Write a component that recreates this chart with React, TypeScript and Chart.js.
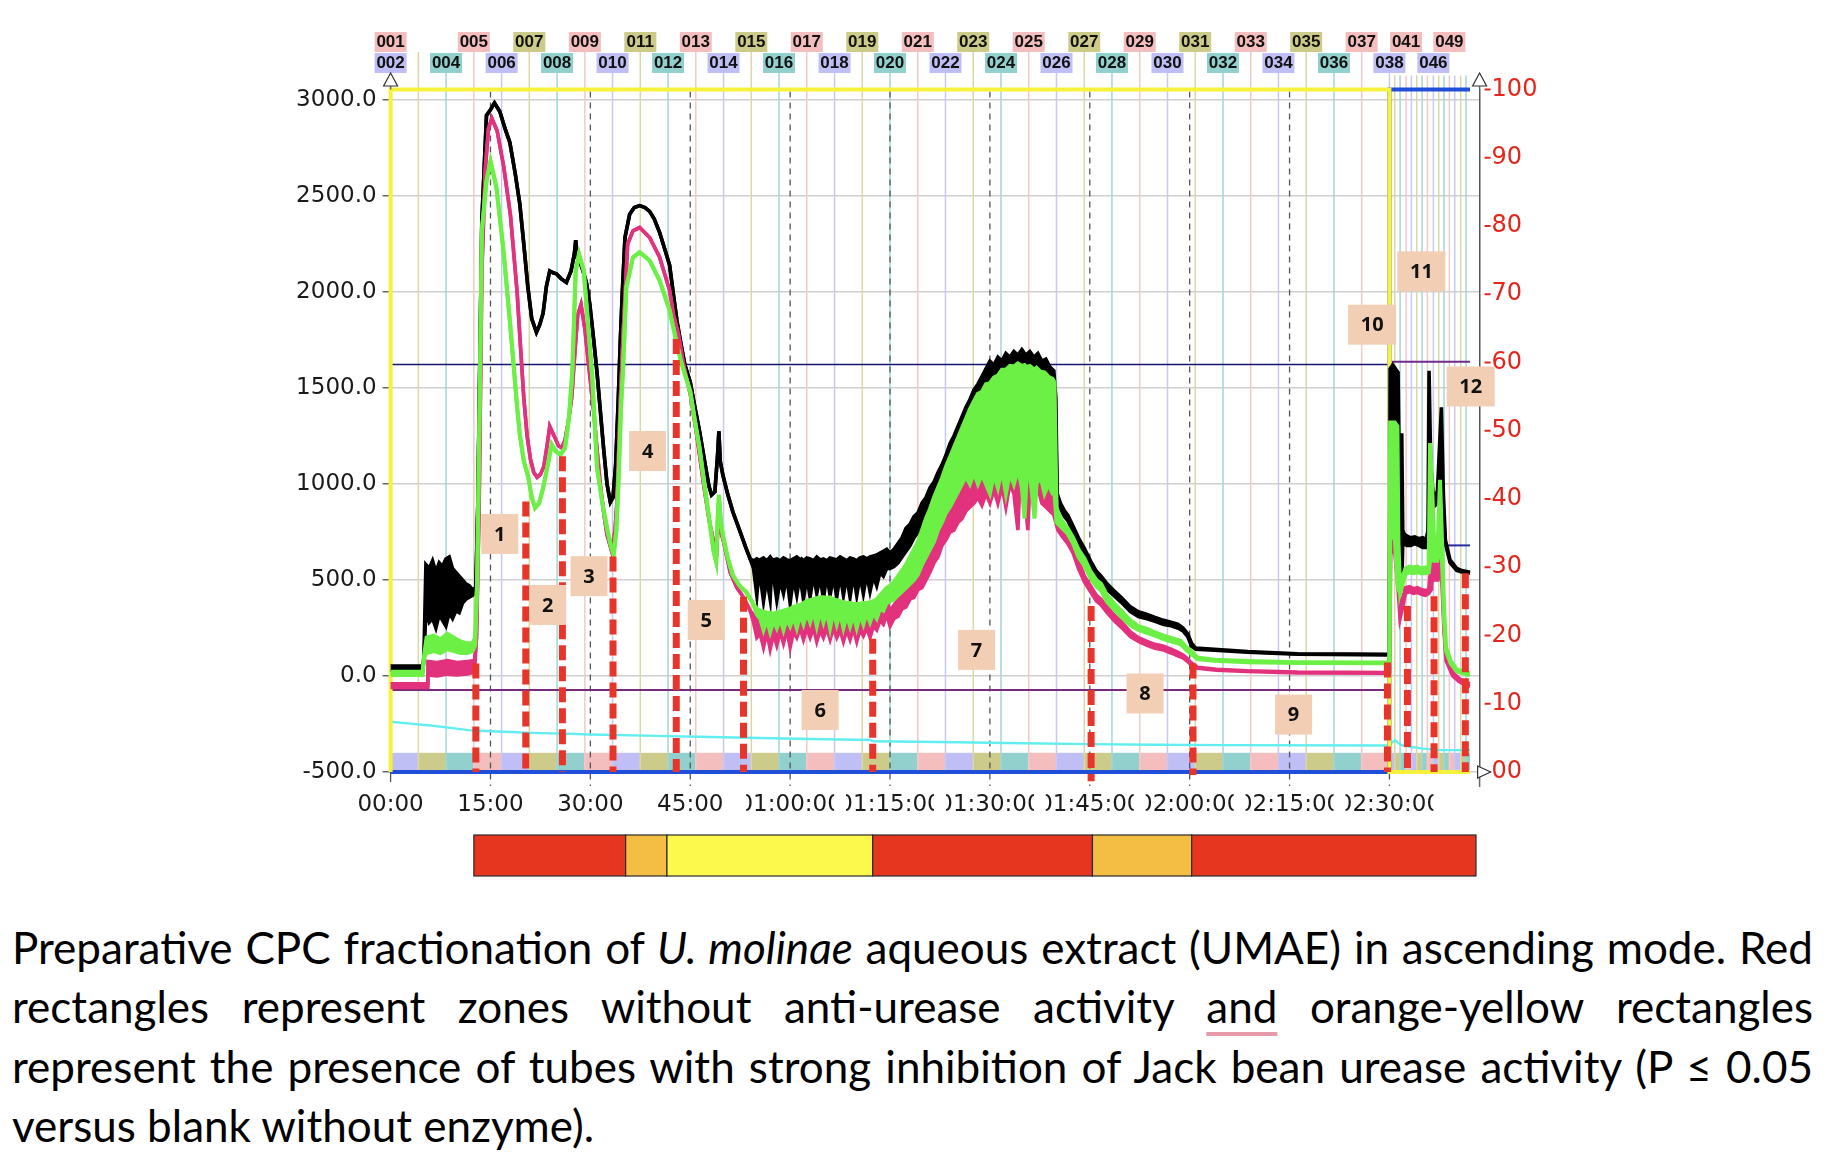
import React, { useEffect, useRef } from "react";
import { Chart, registerables } from "chart.js";

Chart.register(...registerables);

// ---------------- axes ----------------
const timeTickValues = [0, 15, 30, 45, 60, 75, 90, 105, 120, 135, 150];
const timeTickLabels = ["00:00", "15:00", "30:00", "45:00", "01:00:00", "01:15:00", "01:30:00", "01:45:00", "02:00:00", "02:15:00", "02:30:00"];
const timeMin = 0;
const timeMax = 163.54;
const absTicks = [-500, 0, 500, 1000, 1500, 2000, 2500, 3000];
const absMin = -500;
const absMax = 3055;
const pctTicks = [0, 10, 20, 30, 40, 50, 60, 70, 80, 90, 100];
const pctTickLabels = ["00", "10", "20", "30", "40", "50", "60", "70", "80", "90", "100"];

// ---------------- fractions (tubes) ----------------
const fractionLabels = ["001","002","003","004","005","006","007","008","009","010","011","012","013","014","015","016","017","018","019","020","021","022","023","024","025","026","027","028","029","030","031","032","033","034","035","036","037","038","039","040","041","042","043","044","045","046","047","048","049","050","051","052"];
const fractionStarts = [0, 0, 4.17, 8.33, 12.5, 16.67, 20.83, 25, 29.17, 33.33, 37.5, 41.67, 45.83, 50, 54.17, 58.33, 62.5, 66.67, 70.83, 75, 79.17, 83.33, 87.5, 91.67, 95.83, 100, 104.17, 108.33, 112.5, 116.67, 120.83, 125, 129.17, 133.33, 137.5, 141.67, 145.83, 150, 150.8, 151.6, 152.5, 153.3, 154.1, 154.9, 155.7, 156.6, 157.4, 158.2, 159.0, 159.8, 160.7, 161.5];
const fractionEnd = 162.1;
const shownFractionLabels = ["001","002","004","005","006","007","008","009","010","011","012","013","014","015","016","017","018","019","020","021","022","023","024","025","026","027","028","029","030","031","032","033","034","035","036","037","038","041","046","049"];

// ---------------- traces: [time (min), upper, lower] ----------------
const blackSamples = [
  [0, 52, 30], [4.8, 52, 30], [5.0, 95, 80], [5.3, 580, 350], [5.8, 560, 280], [6.3, 600, 300], [6.8, 540, 250],
  [7.3, 590, 320], [7.8, 570, 290], [8.3, 610, 260], [8.8, 620, 330], [9.3, 560, 300], [9.8, 540, 340],
  [10.3, 520, 330], [10.8, 500, 380], [11.3, 480, 400], [11.8, 470, 410], [12.3, 450, 420], [12.8, 460, 440],
  [13.1, 900, 900], [13.4, 1650, 1650], [13.7, 2370, 2370], [14.0, 2600, 2600], [14.4, 2920, 2920], [15.0, 2950, 2950],
  [15.6, 2985, 2985], [16.4, 2940, 2940], [17.2, 2850, 2850], [17.9, 2780, 2780], [18.7, 2620, 2620], [19.4, 2460, 2460],
  [20.0, 2250, 2250], [20.6, 2030, 2030], [21.2, 1860, 1860], [21.9, 1790, 1790], [22.4, 1830, 1830], [22.9, 1890, 1890],
  [23.4, 2030, 2030], [23.9, 2110, 2110], [24.4, 2100, 2100], [24.9, 2095, 2095], [25.6, 2070, 2070], [26.4, 2050, 2050],
  [27.1, 2110, 2110], [27.6, 2200, 2200], [27.8, 2270, 2270], [28.0, 2180, 2180], [28.5, 2150, 2150], [28.9, 2110, 2110],
  [29.4, 2050, 2050], [29.9, 1940, 1940], [30.5, 1750, 1750], [31.0, 1580, 1580], [31.5, 1380, 1380], [32.0, 1180, 1180],
  [32.5, 1000, 1000], [33.0, 905, 905], [33.4, 930, 930], [33.8, 1100, 1100], [34.2, 1450, 1450], [34.5, 1750, 1750],
  [34.8, 2000, 2000], [35.2, 2284, 2284], [35.9, 2405, 2405], [36.6, 2440, 2440], [37.4, 2450, 2450], [38.2, 2440, 2440],
  [38.9, 2420, 2420], [39.6, 2380, 2380], [40.4, 2310, 2310], [41.2, 2220, 2220], [41.9, 2140, 2140], [42.5, 1980, 1980],
  [43.0, 1850, 1850], [43.6, 1730, 1730], [44.2, 1620, 1620], [45.0, 1530, 1530], [45.7, 1400, 1400], [46.4, 1274, 1274],
  [47.2, 1110, 1110], [47.8, 990, 990], [48.2, 943, 943], [48.7, 960, 960], [49.1, 1150, 1150], [49.3, 1274, 1274],
  [49.5, 1120, 1120], [49.9, 1047, 1047], [50.6, 950, 950], [51.4, 855, 855], [52.4, 760, 760], [53.4, 664, 664],
  [54.0, 610, 610], [54.5, 600, 560], [55.0, 610, 420], [55.3, 605, 540], [55.5, 605, 520], [56.0, 615, 390], [56.5, 600, 510],
  [57.0, 620, 400], [57.2, 610, 540], [57.5, 605, 520], [58.0, 610, 395], [58.5, 600, 500], [59.0, 615, 430], [59.5, 605, 520],
  [60.0, 600, 380], [60.5, 610, 510], [61.0, 620, 420], [61.5, 605, 530], [61.7, 610, 470], [62.0, 600, 400], [62.5, 615, 520],
  [63.0, 610, 410], [63.5, 600, 530], [64.0, 620, 430], [64.5, 605, 520], [65.0, 610, 400], [65.5, 600, 530],
  [66.0, 615, 420], [66.5, 610, 520], [67.0, 605, 410], [67.5, 620, 530], [68.0, 610, 420], [68.5, 600, 520],
  [69.0, 615, 410], [69.5, 610, 530], [70.0, 600, 420], [70.5, 615, 520], [71.0, 620, 430], [71.5, 610, 530],
  [72.0, 620, 440], [72.5, 625, 520], [73.0, 630, 470], [73.5, 640, 540], [74.0, 650, 520], [74.5, 660, 560],
  [75.0, 640, 560], [75.6, 660, 570], [76.2, 690, 590], [76.8, 720, 620], [77.4, 770, 650], [78.0, 790, 680],
  [78.6, 830, 720], [79.2, 850, 750], [79.8, 900, 780], [80.4, 930, 820], [81.0, 980, 850], [81.6, 1010, 880],
  [82.2, 1060, 930], [82.8, 1100, 960], [83.4, 1150, 1010], [84.0, 1210, 1060], [84.6, 1250, 1110], [85.2, 1300, 1160],
  [85.8, 1350, 1210], [86.4, 1400, 1260], [87.0, 1440, 1300], [87.6, 1490, 1340], [88.2, 1520, 1380], [88.8, 1560, 1420],
  [89.4, 1600, 1450], [90.0, 1640, 1480], [90.6, 1620, 1490], [91.2, 1660, 1500], [91.8, 1640, 1510], [92.4, 1680, 1520],
  [93.0, 1660, 1530], [93.6, 1690, 1530], [94.2, 1670, 1540], [94.8, 1700, 1540], [95.4, 1670, 1530], [96.0, 1690, 1520],
  [96.6, 1660, 1510], [97.2, 1680, 1500], [97.8, 1640, 1490], [98.4, 1650, 1480], [99.0, 1610, 1460], [99.6, 1590, 1440],
  [99.9, 1450, 1300], [100.1, 950, 900], [100.6, 900, 870], [101.2, 860, 830], [101.7, 838, 810], [102.5, 780, 750],
  [103.3, 720, 690], [104.2, 664, 630], [105.1, 600, 570], [106.0, 545, 515], [106.7, 520, 490], [107.6, 480, 450],
  [108.6, 445, 420], [109.7, 410, 385], [111.1, 360, 335], [112.3, 335, 310], [113.6, 320, 298], [114.8, 305, 285],
  [116.1, 290, 268], [117.2, 280, 262], [118.2, 270, 250], [119.0, 250, 235], [119.7, 220, 205], [120.3, 170, 155],
  [120.9, 145, 140], [123.7, 139, 135], [128.7, 127, 124], [136.2, 116, 113], [149.8, 113, 110], [150.0, 113, 110],
  [150.1, 1600, 1250], [150.5, 1620, 1330], [150.9, 1600, 1300], [151.3, 1580, 900], [151.5, 1000, 720],
  [151.85, 1265, 448], [152.0, 760, 700], [152.2, 740, 690], [152.6, 730, 680], [153.2, 720, 680], [153.8, 725, 690],
  [154.4, 715, 680], [155.0, 720, 670], [155.5, 710, 670], [155.8, 760, 700], [155.95, 1590, 900], [156.2, 1100, 900],
  [156.6, 935, 880], [157.2, 960, 900], [157.8, 1400, 950], [158.1, 950, 850], [158.4, 709, 690], [159.1, 605, 590],
  [160.1, 561, 550], [161.0, 548, 540], [161.6, 544, 538], [162.1, 540, 535]
];

const pinkSamples = [
  [0, -40, -60], [5.5, -40, -60], [5.6, 75, 5], [7.0, 70, 0], [8.5, 80, 10], [10.0, 70, 5], [11.5, 75, 10], [12.6, 80, 20],
  [12.9, 200, 200], [13.3, 900, 900], [13.7, 2100, 2100], [14.2, 2629, 2629], [14.7, 2853, 2853], [15.2, 2905, 2905],
  [16.0, 2840, 2840], [17.0, 2650, 2650], [18.0, 2400, 2400], [19.0, 2000, 2000], [19.5, 1720, 1720], [20.0, 1450, 1450],
  [20.5, 1250, 1250], [21.0, 1130, 1130], [21.5, 1060, 1060], [22.0, 1035, 1035], [22.5, 1050, 1050], [23.0, 1090, 1090],
  [23.5, 1200, 1200], [23.9, 1300, 1300], [24.3, 1270, 1270], [24.7, 1240, 1240], [25.2, 1200, 1200], [25.7, 1188, 1188],
  [26.2, 1230, 1230], [26.7, 1327, 1327], [27.2, 1450, 1450], [27.7, 1700, 1700], [28.1, 1880, 1880], [28.6, 1935, 1935],
  [29.2, 1800, 1800], [29.8, 1600, 1600], [30.5, 1380, 1380], [31.0, 1180, 1180], [31.5, 996, 996], [32.0, 850, 850],
  [32.5, 735, 735], [33.2, 650, 650], [33.7, 760, 760], [34.0, 909, 909], [34.5, 1432, 1432], [34.9, 1767, 1767],
  [35.6, 2250, 2250], [36.4, 2319, 2319], [37.4, 2336, 2336], [38.9, 2284, 2284], [40.4, 2181, 2181], [41.9, 2009, 2009],
  [42.5, 1880, 1880], [43.2, 1784, 1784], [44.0, 1620, 1620], [45.0, 1470, 1470], [46.0, 1250, 1250], [47.0, 1000, 1000],
  [47.8, 820, 820], [48.5, 700, 700], [49.0, 660, 660], [49.3, 900, 900], [49.6, 750, 750], [50.0, 700, 700],
  [51.0, 540, 540], [52.0, 460, 460], [53.0, 410, 410], [54.0, 340, 340], [54.5, 320, 280], [55.0, 300, 200],
  [55.5, 290, 220], [56.0, 285, 150], [56.5, 290, 230], [57.0, 280, 140], [57.5, 285, 220], [58.0, 290, 160],
  [58.5, 295, 230], [59.0, 290, 170], [59.5, 300, 240], [60.0, 295, 150], [60.5, 305, 230], [61.0, 310, 200],
  [61.5, 310, 250], [62.0, 315, 190], [62.5, 320, 250], [63.0, 320, 200], [63.5, 315, 250], [64.0, 320, 180],
  [64.5, 315, 240], [65.0, 310, 200], [65.5, 315, 250], [66.0, 320, 190], [66.5, 315, 250], [67.0, 310, 200],
  [67.5, 315, 240], [68.0, 310, 180], [68.5, 305, 240], [69.0, 310, 190], [69.5, 305, 250], [70.0, 300, 180],
  [70.5, 305, 240], [71.0, 310, 210], [71.5, 310, 250], [72.0, 320, 200], [72.5, 330, 260], [73.0, 340, 240],
  [73.5, 350, 290], [74.0, 370, 270], [74.5, 390, 320], [75.0, 340, 260], [75.6, 370, 300], [76.2, 400, 310],
  [76.8, 430, 350], [77.4, 450, 360], [78.0, 480, 400], [78.6, 510, 410], [79.2, 540, 450], [79.8, 570, 460],
  [80.4, 600, 500], [81.0, 650, 540], [81.6, 700, 590], [82.2, 750, 620], [82.8, 800, 680], [83.4, 850, 710],
  [84.0, 880, 750], [84.6, 920, 760], [85.2, 950, 800], [85.8, 990, 820], [86.4, 1030, 860], [87.0, 1060, 880],
  [87.6, 1090, 900], [88.2, 1110, 930], [88.8, 1130, 890], [89.4, 1150, 950], [90.0, 1160, 900], [90.6, 1180, 970],
  [91.2, 1200, 900], [91.8, 1230, 990], [92.4, 1250, 880], [93.0, 1260, 1000], [93.6, 1280, 950], [94.2, 1290, 760],
  [94.5, 1290, 1000], [95.1, 1300, 980], [95.7, 1290, 760], [96.0, 1290, 1000], [96.6, 1280, 950], [97.2, 1280, 980],
  [97.8, 1270, 900], [98.4, 1260, 880], [99.0, 1250, 860], [99.6, 1230, 840], [99.9, 1000, 800], [100.2, 780, 760],
  [100.8, 760, 730], [101.7, 720, 690], [102.5, 670, 640], [103.3, 600, 560], [104.2, 520, 490], [105.1, 470, 440],
  [106.0, 420, 390], [106.7, 400, 370], [107.6, 360, 330], [108.6, 320, 290], [109.7, 285, 255], [111.1, 230, 205],
  [112.3, 200, 180], [113.6, 180, 160], [114.8, 165, 145], [116.1, 155, 135], [117.2, 140, 120], [118.2, 125, 105],
  [119.0, 110, 95], [119.7, 90, 75], [120.2, 70, 60], [121.2, 45, 40], [124.0, 35, 30], [128.7, 27, 24],
  [136.2, 20, 16], [149.8, 18, 15], [150.0, 20, 15], [150.2, 1100, 650], [150.8, 1100, 640], [151.2, 700, 500],
  [151.6, 340, 300], [152.0, 400, 360], [152.4, 460, 430], [153.0, 465, 440], [153.6, 455, 430], [154.2, 460, 435],
  [154.8, 450, 425], [155.4, 445, 420], [155.9, 450, 430], [156.3, 600, 450], [156.6, 744, 600], [156.9, 680, 500],
  [157.3, 560, 500], [157.8, 650, 550], [158.2, 260, 230], [158.5, 100, 80], [159.5, 20, 0], [160.5, -15, -30],
  [161.6, -35, -50], [162.1, -40, -55]
];

const greenSamples = [
  [0, 22, 5], [4.8, 22, 5], [5.0, 100, 90], [5.4, 200, 120], [6.5, 210, 130], [7.5, 190, 120], [8.5, 220, 140],
  [9.5, 200, 130], [10.5, 180, 120], [11.5, 170, 120], [12.3, 170, 130], [12.7, 200, 160], [13.0, 500, 500],
  [13.4, 1500, 1500], [13.7, 2319, 2319], [14.4, 2578, 2578], [15.0, 2681, 2681], [15.9, 2543, 2543], [16.9, 2233, 2233],
  [17.9, 1853, 1853], [18.4, 1650, 1650], [19.0, 1400, 1400], [19.4, 1258, 1258], [20.0, 1120, 1120], [20.7, 1031, 1031],
  [21.2, 930, 930], [21.7, 875, 875], [22.3, 900, 900], [22.9, 979, 979], [23.6, 1100, 1100], [24.2, 1206, 1206],
  [24.8, 1170, 1170], [25.5, 1153, 1153], [26.2, 1188, 1188], [26.8, 1350, 1350], [27.3, 1595, 1595], [27.8, 2112, 2112],
  [28.3, 2198, 2198], [29.0, 2112, 2112], [29.8, 1767, 1767], [30.3, 1550, 1550], [31.0, 1084, 1084], [31.8, 900, 900],
  [32.5, 770, 770], [33.0, 690, 690], [33.5, 631, 631], [33.9, 760, 760], [34.2, 996, 996], [34.6, 1400, 1400],
  [34.9, 1595, 1595], [35.4, 2026, 2026], [36.4, 2181, 2181], [37.4, 2207, 2207], [38.9, 2164, 2164], [40.4, 2060, 2060],
  [41.9, 1905, 1905], [42.9, 1744, 1744], [43.6, 1640, 1640], [44.3, 1560, 1560], [45.0, 1483, 1483], [45.7, 1330, 1330],
  [46.4, 1187, 1187], [47.2, 980, 980], [47.9, 803, 803], [48.5, 650, 650], [48.9, 594, 594], [49.1, 800, 800],
  [49.3, 943, 943], [49.6, 800, 800], [49.9, 734, 734], [50.6, 620, 620], [51.4, 524, 524], [52.4, 470, 470],
  [53.4, 437, 437], [54.4, 380, 380], [55.0, 350, 320], [55.5, 340, 300], [56.0, 335, 240], [56.5, 330, 295],
  [57.0, 330, 230], [57.5, 325, 290], [58.0, 330, 250], [58.5, 335, 300], [59.0, 340, 240], [59.5, 345, 300],
  [60.0, 350, 260], [60.5, 360, 310], [61.0, 365, 250], [61.5, 370, 320], [62.0, 380, 270], [62.5, 390, 330],
  [63.0, 395, 280], [63.5, 400, 340], [64.0, 405, 260], [64.5, 410, 340], [65.0, 410, 280], [65.5, 405, 340],
  [66.0, 410, 250], [66.5, 400, 340], [67.0, 395, 270], [67.5, 390, 330], [68.0, 385, 250], [68.5, 380, 320],
  [69.0, 380, 260], [69.5, 375, 320], [70.0, 375, 250], [70.5, 375, 320], [71.0, 380, 270], [71.5, 380, 330],
  [72.0, 385, 280], [72.5, 390, 330], [73.0, 400, 300], [73.5, 420, 350], [74.0, 440, 340], [74.5, 460, 380],
  [75.0, 470, 390], [75.6, 490, 400], [76.2, 520, 420], [76.8, 550, 440], [77.4, 580, 460], [78.0, 620, 480],
  [78.6, 660, 500], [79.2, 700, 530], [79.8, 760, 580], [80.4, 820, 620], [81.0, 870, 660], [81.6, 930, 700],
  [82.2, 980, 760], [82.8, 1030, 800], [83.4, 1090, 850], [84.0, 1140, 880], [84.6, 1190, 920], [85.2, 1240, 960],
  [85.8, 1290, 1000], [86.4, 1340, 1040], [87.0, 1390, 1000], [87.6, 1430, 1060], [88.2, 1470, 1000], [88.8, 1480, 1050],
  [89.4, 1520, 1000], [90.0, 1525, 950], [90.6, 1555, 1050], [91.2, 1565, 980], [91.8, 1595, 1080], [92.4, 1595, 950],
  [93.0, 1615, 1060], [93.6, 1612, 1000], [94.2, 1628, 1080], [94.8, 1615, 980], [95.2, 1620, 820], [95.5, 1610, 1020],
  [96.0, 1615, 1060], [96.7, 1595, 820], [97.0, 1605, 1000], [97.6, 1585, 1040], [98.2, 1582, 950], [98.8, 1558, 1000],
  [99.4, 1548, 950], [99.7, 1530, 950], [100.0, 880, 800], [100.6, 820, 780], [101.7, 768, 740], [102.5, 720, 690],
  [103.3, 660, 620], [104.2, 612, 575], [105.1, 547, 510], [106.0, 500, 465], [106.7, 480, 445], [107.6, 420, 385],
  [108.6, 380, 350], [109.7, 340, 310], [111.1, 290, 265], [112.3, 260, 240], [113.6, 245, 225], [114.8, 228, 210],
  [116.1, 210, 192], [117.2, 198, 180], [118.2, 188, 170], [118.7, 182, 165], [119.5, 150, 135], [120.2, 130, 115],
  [121.2, 96, 88], [123.7, 85, 80], [128.7, 78, 72], [136.2, 72, 68], [149.8, 70, 66], [150.0, 70, 66],
  [150.1, 1320, 720], [150.8, 1320, 720], [151.2, 1300, 480], [151.35, 700, 448], [151.6, 450, 430], [152.0, 520, 480],
  [152.4, 560, 530], [153.0, 570, 540], [153.6, 565, 535], [154.2, 570, 540], [154.8, 560, 535], [155.4, 565, 535],
  [155.9, 570, 540], [156.1, 1213, 600], [156.4, 1000, 700], [156.7, 700, 600], [157.2, 650, 600], [157.6, 1022, 700],
  [157.9, 700, 600], [158.2, 350, 300], [158.5, 150, 130], [159.2, 80, 65], [160.1, 35, 25], [161.6, 18, 8], [162.1, 15, 5]
];

const cyanSamples = [
  [0, -238], [3, -248], [6, -258], [9, -270], [12, -283], [15, -288], [18, -292], [21, -296], [24, -299], [27, -301],
  [30, -305], [40, -312], [48, -318], [61, -327], [72, -333], [72.5, -340], [85, -345], [95, -350], [105, -355],
  [115, -358], [125, -360], [150, -362], [150.3, -350], [150.8, -334], [151.8, -360], [153.3, -369], [155, -378],
  [157.8, -386], [162.1, -386]
];

// pump / mode lines (right axis, %)
const yellowModeTime = [0, 0, 150, 150, 162.1];
const yellowModeValue = [0, 100, 100, 0, 0];
const blueModeTime = [0, 150, 150, 162.1];
const blueModeValue = [0, 0, 100, 100];
const purpleLevelTime = [0, 150];
const purpleLevelValue = [12, 12];
const navyLevelTime = [0, 150];
const navyLevelValue = [59.7, 59.7];
const purpleLevel2Time = [150.35, 162.1];
const purpleLevel2Value = [60.1, 60.1];
const navyLevel2Time = [158.4, 162.1];
const navyLevel2Value = [33.2, 33.2];

// ---------------- zones ----------------
const zoneCutTimes = [12.8, 20.3, 25.8, 33.4, 42.9, 53.0, 72.4, 105.2, 120.5, 149.7, 152.7, 156.7, 161.4];
const zoneCutTops = [65, 909, 1145, 622, 1756, 413, 194, 365, 65, 70, 365, 415, 535];
const zoneCutBottoms = [-500, -500, -500, -500, -500, -500, -500, -548, -515, -500, -500, -500, -500];
const zoneLabels = ["1", "2", "3", "4", "5", "6", "7", "8", "9", "10", "11", "12"];
const zoneLabelTimes = [16.4, 23.6, 29.8, 38.6, 47.4, 64.5, 88.0, 113.3, 135.6, 147.4, 154.8, 162.2];
const zoneLabelValues = [740, 370, 520, 1172, 292, -177, 136, -91, -201, 1830, 2108, 1508];

// activity bar below the chart
const activityBreaks = [12.5, 35.3, 41.5, 72.4, 105.4, 120.3, 163.0];
const activityKinds = ["none", "strong", "strongYellow", "none", "strong", "none"];

// ---------------- styles ----------------
const fractionPalette = [
  { fill: "#cdcb8a", line: "#d9d8a6" },
  { fill: "#92d0cd", line: "#a3d6d6" },
  { fill: "#f4bebe", line: "#f4c8c8" },
  { fill: "#bfbff5", line: "#c8c8f5" },
];
const activityColors: any = { none: "#e6361f", strong: "#f3be43", strongYellow: "#fdf94c" };

const CANVAS_W = 1818;
const CANVAS_H = 880;

function fracColor(n: number) {
  return fractionPalette[(((n - 3) % 4) + 4) % 4];
}

const decorPlugin: any = {
  id: "decor",
  beforeDatasetsDraw(chart: any) {
    const { ctx, chartArea: ca, scales } = chart;
    const xs = scales.x;
    const ys = scales.y;
    ctx.save();
    const bTop = ys.getPixelForValue(-400);
    const bBot = ys.getPixelForValue(-500);
    for (let i = 1; i < fractionStarts.length; i++) {
      const n = i + 1;
      const t0 = fractionStarts[i];
      const t1 = i + 1 < fractionStarts.length ? fractionStarts[i + 1] : fractionEnd;
      const x0 = xs.getPixelForValue(t0);
      const x1 = xs.getPixelForValue(t1);
      ctx.fillStyle = fracColor(n).fill;
      ctx.fillRect(x0, bTop, x1 - x0, bBot - bTop);
    }
    for (let i = 2; i < fractionStarts.length; i++) {
      const n = i + 1;
      const px = xs.getPixelForValue(fractionStarts[i]);
      let top = n % 2 === 1 ? 44 : 65;
      if (n >= 39) top = ca.top - 14;
      ctx.strokeStyle = fracColor(n).line;
      ctx.lineWidth = 1.5;
      ctx.beginPath();
      ctx.moveTo(px, top);
      ctx.lineTo(px, ca.bottom);
      ctx.stroke();
    }
    ctx.strokeStyle = "#555";
    ctx.lineWidth = 1.3;
    for (const t of timeTickValues) {
      const px = xs.getPixelForValue(t);
      if (t === 0) {
        ctx.setLineDash([]);
        ctx.beginPath();
        ctx.moveTo(px, ca.bottom);
        ctx.lineTo(px, ca.bottom + 10);
        ctx.stroke();
        continue;
      }
      ctx.setLineDash([6, 5]);
      ctx.beginPath();
      ctx.moveTo(px, ca.top + 2);
      ctx.lineTo(px, ca.bottom + 14);
      ctx.stroke();
    }
    ctx.setLineDash([]);
    ctx.restore();
  },
  afterDatasetsDraw(chart: any) {
    const { ctx, scales } = chart;
    const xs = scales.x;
    const ys = scales.y;
    ctx.save();
    ctx.font = "bold 20px 'Open Sans'";
    ctx.textAlign = "center";
    ctx.textBaseline = "middle";
    zoneLabels.forEach((lab, i) => {
      const cx = xs.getPixelForValue(zoneLabelTimes[i]);
      const cy = ys.getPixelForValue(zoneLabelValues[i]);
      const w = lab.length > 1 ? 48 : 37;
      const h = 40;
      ctx.fillStyle = "#f2cfb4";
      ctx.fillRect(cx - w / 2, cy - h / 2, w, h);
      ctx.fillStyle = "#111";
      ctx.fillText(lab, cx, cy + 1);
    });
    ctx.restore();
  },
  afterDraw(chart: any) {
    const { ctx, chartArea: ca, scales } = chart;
    const xs = scales.x;
    const y2 = scales.y2;
    ctx.save();
    ctx.font = "bold 17px 'Liberation Sans'";
    ctx.textAlign = "center";
    ctx.textBaseline = "middle";
    fractionLabels.forEach((lab, i) => {
      if (shownFractionLabels.indexOf(lab) < 0) return;
      const n = i + 1;
      const px = xs.getPixelForValue(fractionStarts[i]);
      const top = n % 2 === 1 ? 24 : 45;
      ctx.fillStyle = fracColor(n).fill;
      ctx.fillRect(px - 16, top, 32, 20);
      ctx.fillStyle = "#111";
      ctx.fillText(lab, px, top + 10.5);
    });
    ctx.font = "23px 'DejaVu Sans'";
    ctx.fillStyle = "#1a1a1a";
    timeTickValues.forEach((t, i) => {
      const px = xs.getPixelForValue(t);
      const cy = ca.bottom + 33;
      ctx.save();
      ctx.beginPath();
      ctx.rect(px - 44, cy - 18, 88, 36);
      ctx.clip();
      ctx.fillText(timeTickLabels[i], px, cy);
      ctx.restore();
    });
    ctx.strokeStyle = "#e4261c";
    ctx.lineWidth = 2;
    pctTicks.forEach((v) => {
      const py = y2.getPixelForValue(v);
      ctx.beginPath();
      ctx.moveTo(ca.right + 5, py);
      ctx.lineTo(ca.right + 11, py);
      ctx.stroke();
    });
    ctx.strokeStyle = "#666";
    ctx.lineWidth = 1.5;
    ctx.beginPath();
    ctx.moveTo(ca.left, 78);
    ctx.lineTo(ca.left, ca.top);
    ctx.moveTo(ca.right, 78);
    ctx.lineTo(ca.right, ca.top);
    ctx.moveTo(ca.right, ca.bottom);
    ctx.lineTo(ca.right, ca.bottom + 15);
    ctx.stroke();
    ctx.fillStyle = "#fff";
    ctx.strokeStyle = "#333";
    ctx.lineWidth = 1.2;
    [ca.left, ca.right].forEach((px) => {
      ctx.beginPath();
      ctx.moveTo(px, 65);
      ctx.lineTo(px - 7, 78);
      ctx.lineTo(px + 7, 78);
      ctx.closePath();
      ctx.fill();
      ctx.stroke();
    });
    ctx.beginPath();
    ctx.moveTo(ca.right - 2, ca.bottom - 6);
    ctx.lineTo(ca.right + 11, ca.bottom);
    ctx.lineTo(ca.right - 2, ca.bottom + 6);
    ctx.closePath();
    ctx.fill();
    ctx.stroke();
    const barTop = 827;
    const barH = 41;
    for (let i = 0; i < activityKinds.length; i++) {
      const x0 = xs.getPixelForValue(activityBreaks[i]);
      const x1 = xs.getPixelForValue(activityBreaks[i + 1]);
      ctx.fillStyle = activityColors[activityKinds[i]];
      ctx.fillRect(x0, barTop, x1 - x0, barH);
      ctx.strokeStyle = "#2a2a2a";
      ctx.lineWidth = 1.2;
      ctx.strokeRect(x0, barTop, x1 - x0, barH);
    }
    ctx.restore();
  },
};

function pts(times: number[], values: number[]) {
  return times.map((t, i) => ({ x: t, y: values[i] }));
}

export default function App() {
  const canvasRef = useRef<HTMLCanvasElement | null>(null);

  useEffect(() => {
    const canvas = canvasRef.current;
    if (!canvas) return;
    const datasets: any[] = [];
    const line = (label: string, data: any[], color: string, width: number, axis: string, extra: any = {}) => {
      datasets.push({
        label, data, borderColor: color, backgroundColor: color, borderWidth: width,
        pointRadius: 0, tension: 0, fill: false, yAxisID: axis, clip: false, ...extra,
      });
    };
    const band = (label: string, samples: number[][], color: string, width: number) => {
      line(label + " upper", samples.map((s) => ({ x: s[0], y: s[1] })), color, width, "y", { fill: "+1" });
      line(label + " lower", samples.map((s) => ({ x: s[0], y: s[2] })), color, width, "y");
    };

    line("cyan", cyanSamples.map((s) => ({ x: s[0], y: s[1] })), "#62eef0", 2.4, "y");
    line("purple level", pts(purpleLevelTime, purpleLevelValue), "#7a2a7a", 2, "y2");
    line("navy level", pts(navyLevelTime, navyLevelValue), "#16166e", 1.6, "y2");
    line("purple level 2", pts(purpleLevel2Time, purpleLevel2Value), "#6e2a8c", 2, "y2");
    line("navy level 2", pts(navyLevel2Time, navyLevel2Value), "#2a2aa0", 2, "y2");
    line("blue mode", pts(blueModeTime, blueModeValue), "#1f4fd8", 4, "y2");
    line("yellow mode", pts(yellowModeTime, yellowModeValue), "#f6f23c", 4, "y2");
    band("black", blackSamples, "#000000", 3.6);
    band("pink", pinkSamples, "#e3327d", 3.6);
    band("green", greenSamples, "#6cf046", 4);
    zoneCutTimes.forEach((t, i) => {
      line("cut " + (i + 1), [{ x: t, y: zoneCutTops[i] }, { x: t, y: zoneCutBottoms[i] }], "#e8352b", 7, "y", {
        borderDash: [15, 6], borderCapStyle: "butt",
      });
    });
    datasets.forEach((d, i) => { d.order = datasets.length - i; });

    const chart = new Chart(canvas, {
      type: "line",
      data: { datasets },
      options: {
        responsive: false,
        animation: false,
        devicePixelRatio: 1,
        layout: { padding: { left: 0, right: 266.4, top: 81.5, bottom: 116 } },
        plugins: { legend: { display: false }, tooltip: { enabled: false } },
        scales: {
          x: { type: "linear", min: timeMin, max: timeMax, display: false },
          y: {
            type: "linear", position: "left", min: absMin, max: absMax,
            afterBuildTicks: (s: any) => { s.ticks = absTicks.map((v) => ({ value: v })); },
            afterFit: (s: any) => { s.width = 382.6; },
            ticks: {
              font: { family: "'DejaVu Sans'", size: 23 }, color: "#1a1a1a", padding: 6,
              callback: (v: any) => Number(v).toFixed(1),
            },
            grid: { color: "#cfcfcf", lineWidth: 1.5, tickLength: 8, tickColor: "#666", drawTicks: true },
            border: { color: "#666", width: 1.5 },
          },
          y2: {
            type: "linear", position: "right", min: 0, max: 100,
            afterBuildTicks: (s: any) => { s.ticks = pctTicks.map((v) => ({ value: v })); },
            afterFit: (s: any) => { s.width = 80; },
            ticks: {
              font: { family: "'DejaVu Sans'", size: 24 }, color: "#e4261c", padding: 12,
              callback: (_v: any, i: number) => pctTickLabels[i],
            },
            grid: { drawOnChartArea: false, drawTicks: false },
            border: { color: "#555", width: 1.5 },
          },
        },
      } as any,
      plugins: [decorPlugin],
    });
    return () => chart.destroy();
  }, []);

  const lineStyle: any = { textAlign: "justify", textAlignLast: "justify", whiteSpace: "normal" };
  return (
    <div style={{ position: "relative", width: CANVAS_W, height: 1144 }}>
      <canvas ref={canvasRef} width={CANVAS_W} height={CANVAS_H}
        style={{ position: "absolute", left: 0, top: 0, width: CANVAS_W, height: CANVAS_H }} />
      <div style={{ position: "absolute", left: 4, top: 910, width: 1801, fontFamily: "Lato", fontSize: 44, lineHeight: "59.3px", color: "#000" }}>
        <div style={lineStyle}>Preparative CPC fractionation of <i>U. molinae</i> aqueous extract (UMAE) in ascending mode. Red</div>
        <div style={lineStyle}>rectangles represent zones without anti-urease activity{" "}
          <span style={{ textDecoration: "underline", textDecorationColor: "#e79aaa", textDecorationThickness: "4px", textUnderlineOffset: "9px" }}>and</span>{" "}
          orange-yellow rectangles</div>
        <div style={lineStyle}>represent the presence of tubes with strong inhibition of Jack bean urease activity (P ≤ 0.05</div>
        <div style={{ textAlign: "left" }}>versus blank without enzyme).</div>
      </div>
    </div>
  );
}
